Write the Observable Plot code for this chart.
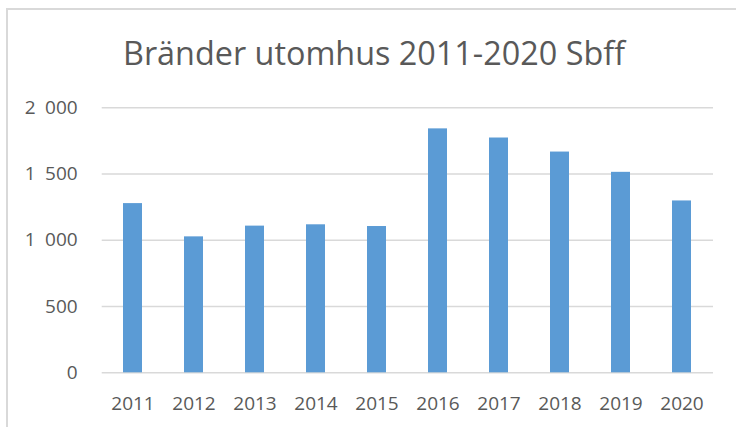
<!DOCTYPE html>
<html>
<head>
<meta charset="utf-8">
<script src="https://cdn.jsdelivr.net/npm/d3@7"></script>
<script src="https://cdn.jsdelivr.net/npm/@observablehq/plot@0.6"></script>
<style>
  html, body { margin: 0; padding: 0; background: #fff; }
  body { width: 736px; height: 427px; position: relative; overflow: hidden; font-family: "Open Sans", sans-serif; }
  #frame { position: absolute; left: 6px; top: 8px; width: 760px; height: 440px; border-left: 2px solid #d9d9d9; border-top: 2px solid #d9d9d9; box-sizing: border-box; }
  #title { position: absolute; left: 6px; width: 736px; top: 36px; text-align: center; color: #595959; white-space: nowrap; line-height: 1; }
  #chart { position: absolute; left: 0; top: 0; }
  #chart svg text { font-size: 19px !important; fill: #595959; }
</style>
</head>
<body>
<div id="frame"></div>
<div id="chart"></div>
<div id="title"><span id="tt">Bränder utomhus 2011-2020 Sbff</span></div>
<script>
const years = ["2011","2012","2013","2014","2015","2016","2017","2018","2019","2020"];
const fires = [1277, 1026, 1107, 1117, 1104, 1841, 1772, 1666, 1513, 1297];
const yTicks = [0, 500, 1000, 1500, 2000];
const titleText = "Bränder utomhus 2011-2020 Sbff";

const data = years.map((y, i) => ({year: y, value: fires[i]}));
const fmt = v => d3.format(",")(v).replace(/,/g, "\u2002");

const plot = Plot.plot({
  width: 736,
  height: 427,
  marginLeft: 101.7,
  marginRight: 23,
  marginTop: 107.3,
  marginBottom: 54.7,
  style: {fontFamily: "Open Sans, sans-serif", fontSize: "19px", color: "#595959", background: "transparent"},
  x: {domain: years, paddingInner: 0.69, paddingOuter: 0.345, label: null},
  y: {domain: [0, 2000], label: null},
  marks: [
    Plot.ruleY(yTicks, {stroke: "#d9d9d9", strokeWidth: 1.5}),
    Plot.barY(data, {x: "year", y: "value", fill: "#5b9bd5"}),
    Plot.axisX({tickSize: 0, tickPadding: 24, label: null}),
    Plot.axisY(yTicks, {tickSize: 0, tickPadding: 24.5, tickFormat: fmt, label: null})
  ]
});
document.getElementById("chart").appendChild(plot);

// fit title width to ~502px
const tt = document.getElementById("tt");
tt.textContent = titleText;
tt.style.fontSize = "30px";
const w = tt.getBoundingClientRect().width;
tt.style.fontSize = (30 * 502 / w).toFixed(2) + "px";
</script>
</body>
</html>
